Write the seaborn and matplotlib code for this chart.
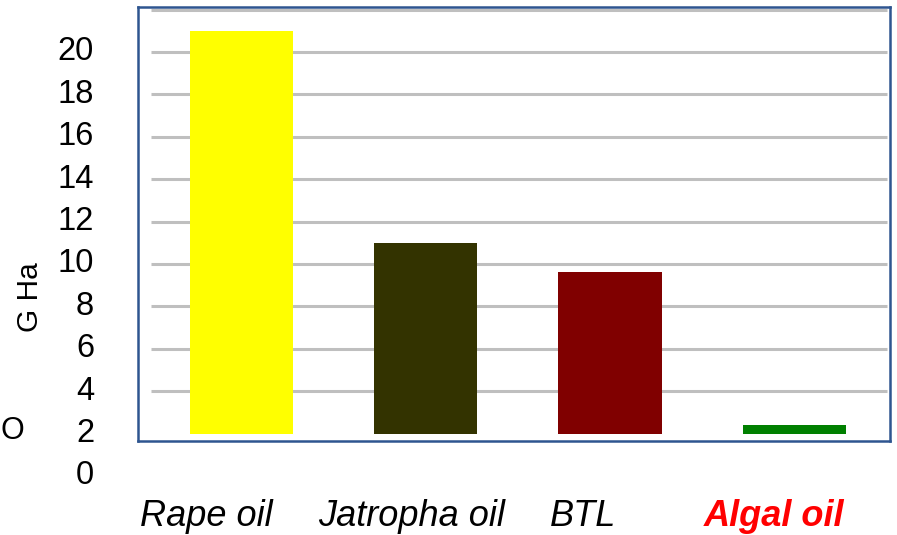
import matplotlib
matplotlib.use("Agg")
import matplotlib.pyplot as plt
import matplotlib.transforms as mtransforms
import pandas as pd
import seaborn as sns

# Land area needed per fuel pathway (G Ha)
categories = ["Rape oil", "Jatropha oil", "BTL", "Algal oil"]
values = [21.0, 11.0, 9.6, 2.4]
baseline = 2.0
bar_colors = ["#FFFF00", "#333300", "#800000", "#008000"]
label_colors = ["black", "black", "black", "#FF0000"]
label_weights = ["normal", "normal", "normal", "bold"]
y_ticks = [0, 2, 4, 6, 8, 10, 12, 14, 16, 18, 20]
grid_levels = [4, 6, 8, 10, 12, 14, 16, 18, 20, 22]
y_label = "G Ha"

sns.set_theme(style="white")
plt.rcParams["font.family"] = ["Liberation Sans", "DejaVu Sans"]

df = pd.DataFrame({"fuel": categories, "area": values})
df["span"] = df["area"] - baseline

fig = plt.figure(figsize=(8.97, 5.35), dpi=100)
ax = fig.add_axes([0.1544, 0.1757, 0.8378, 0.8112])

# horizontal grid lines behind the bars
ax.hlines(grid_levels, xmin=-0.49, xmax=3.505, colors="#BFBFBF",
          linewidth=2.2, zorder=0)

sns.barplot(data=df, x="fuel", y="span", hue="fuel", palette=bar_colors,
            saturation=1, bottom=baseline, width=0.56, legend=False, ax=ax,
            edgecolor="none", linewidth=0, zorder=2)

ax.set_xlim(-0.5587, 3.52)
ax.set_ylim(1.65, 22.12)
ax.set_xlabel("")
ax.set_ylabel("")
ax.set_xticks([])
ax.set_yticks([])

for side in ["left", "right", "top", "bottom"]:
    ax.spines[side].set_visible(True)
    ax.spines[side].set_color("#2E5590")
    ax.spines[side].set_linewidth(1.8)

# y tick labels, including the zero that sits below the frame
ytrans = mtransforms.blended_transform_factory(fig.transFigure, ax.transData)
for t in y_ticks:
    ax.text(94 / 897, t, str(t), transform=ytrans, ha="right", va="center",
            fontsize=23.5, color="black", clip_on=False)

# category labels under the frame
label_x = [206, 412, 583, 774]
for xpix, name, col, wt in zip(label_x, categories, label_colors, label_weights):
    fig.text(xpix / 897, 1 - 516 / 535, name, ha="center", va="center",
             fontsize=26, style="italic", color=col, weight=wt)

fig.text(30 / 897, 1 - 297 / 535, y_label, rotation=90, ha="center",
         va="center", fontsize=21.5, color="black")
fig.text(1 / 897, 1 - 431 / 535, "O", ha="left", va="center",
         fontsize=22, color="black")

fig.savefig("out.png", dpi=100)
